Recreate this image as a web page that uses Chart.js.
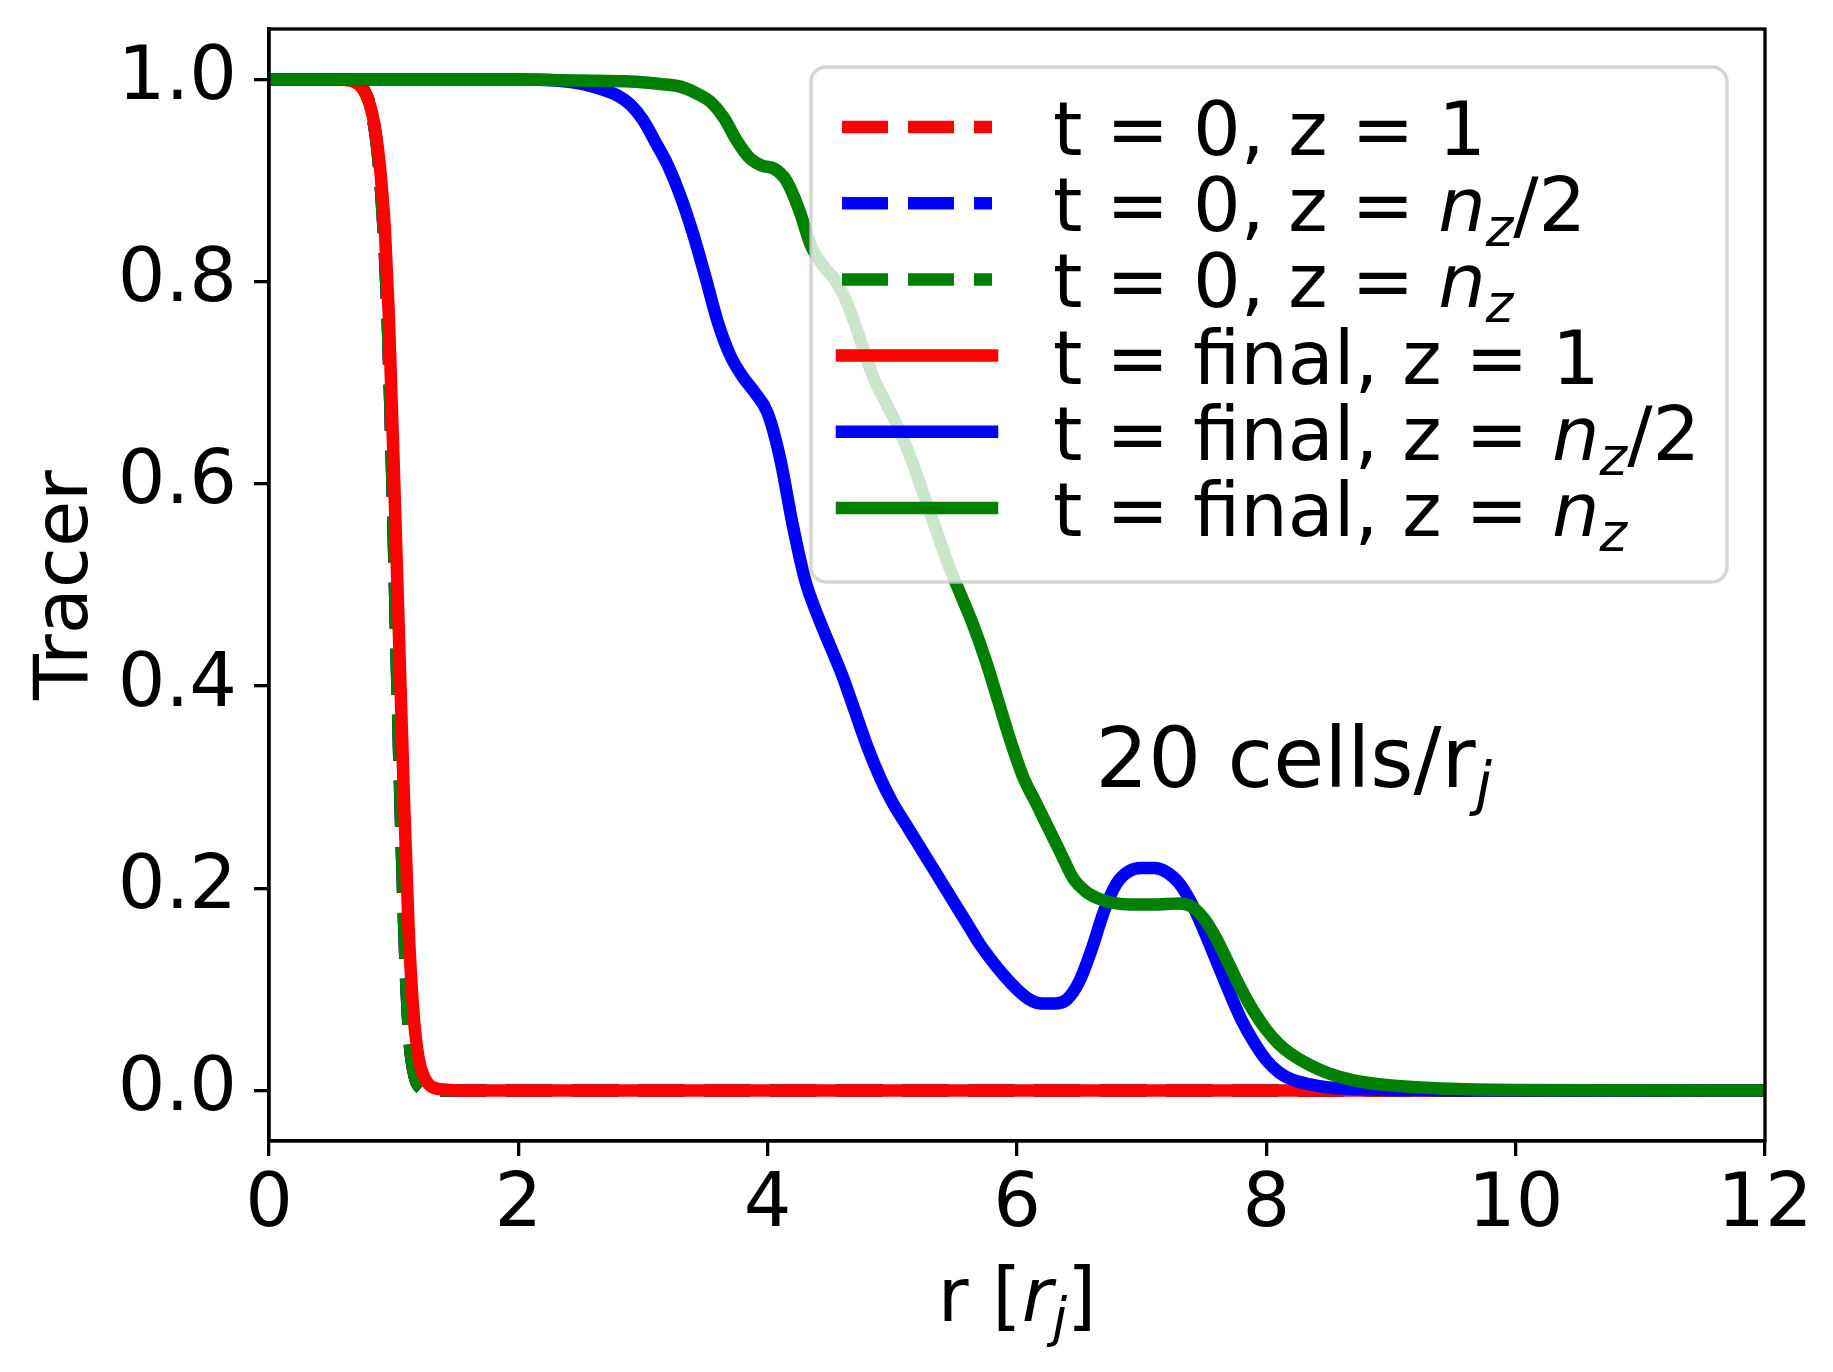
<!DOCTYPE html>
<html>
<head>
<meta charset="utf-8">
<title>Tracer profiles</title>
<script src="https://cdn.jsdelivr.net/npm/chart.js@4.4.1/dist/chart.umd.min.js"></script>
<style>
  html, body { margin: 0; padding: 0; background: #fff; }
  #wrap { width: 1833px; height: 1372px; }
</style>
</head>
<body>
<div id="wrap"><canvas id="myChart" width="1833" height="1372"></canvas></div>
<script>
// radius in units of r_j, tracer value
// t = 0 profile (same for all three z slices)
const rInit  = [0, 0.6, 0.7, 0.76, 0.82, 0.87, 0.91, 0.95, 0.99, 1.03, 1.07, 1.1, 1.13, 1.17, 1.21, 1.26, 1.4, 2, 12];
const trInit = [1, 1, 0.998, 0.99, 0.97, 0.93, 0.87, 0.77, 0.6, 0.4, 0.22, 0.11, 0.045, 0.013, 0.003, 0.0005, 0, 0, 0];

// t = final, z = 1
const rFin1  = [0, 0.5, 0.65, 0.72, 0.78, 0.83, 0.87, 0.9, 0.93, 0.96, 1.0, 1.04, 1.08, 1.12, 1.16, 1.2, 1.25, 1.3, 1.4, 1.6, 2, 4, 6, 8, 10, 12];
const trFin1 = [1, 1, 0.999, 0.995, 0.985, 0.965, 0.935, 0.9, 0.85, 0.77, 0.62, 0.46, 0.3, 0.16, 0.075, 0.032, 0.012, 0.004, 0.001, 0, 0, 0, 0, 0, 0, 0];

// t = final, z = n_z/2
const rFin2  = [0, 2.0, 2.3, 2.5, 2.6, 2.7, 2.8, 2.9, 3.0, 3.1, 3.2, 3.3, 3.4, 3.5, 3.6, 3.7, 3.8, 3.9, 4.0, 4.1, 4.2, 4.3, 4.4, 4.5, 4.6, 4.7, 4.8, 4.9,
                5.0, 5.1, 5.2, 5.3, 5.4, 5.5, 5.6, 5.7, 5.8, 5.9, 6.0, 6.1, 6.2, 6.3, 6.4, 6.5, 6.6, 6.7, 6.8, 6.9, 7.0, 7.1, 7.2, 7.3,
                7.4, 7.5, 7.6, 7.7, 7.8, 7.9, 8.0, 8.1, 8.2, 8.35, 8.5, 8.7, 9.0, 9.5, 10, 12];
const trFin2 = [1, 1, 0.999, 0.996, 0.993, 0.989, 0.984, 0.975, 0.96, 0.938, 0.915, 0.885, 0.848, 0.805, 0.76, 0.727, 0.706, 0.69, 0.67, 0.625, 0.56, 0.505, 0.47, 0.44, 0.41, 0.375, 0.34, 0.31,
                0.285, 0.265, 0.245, 0.225, 0.205, 0.185, 0.165, 0.145, 0.128, 0.113, 0.1, 0.09, 0.086, 0.086, 0.09, 0.108, 0.14, 0.178, 0.205, 0.217, 0.22, 0.22, 0.216, 0.205,
                0.185, 0.158, 0.128, 0.098, 0.07, 0.048, 0.03, 0.018, 0.011, 0.006, 0.003, 0.0015, 0.0005, 0, 0, 0];

// t = final, z = n_z
const rFin3  = [0, 2.0, 2.5, 2.9, 3.1, 3.3, 3.45, 3.55, 3.65, 3.75, 3.85, 3.95, 4.05, 4.15, 4.25, 4.35, 4.45, 4.55, 4.65, 4.75, 4.85, 4.95,
                5.05, 5.15, 5.25, 5.35, 5.45, 5.55, 5.65, 5.75, 5.85, 5.95, 6.05, 6.15, 6.25, 6.35, 6.45, 6.55, 6.65, 6.75, 6.9, 7.1, 7.3,
                7.4, 7.5, 7.6, 7.7, 7.8, 7.9, 8.0, 8.1, 8.2, 8.35, 8.5, 8.7, 9.0, 9.4, 10, 12];
const trFin3 = [1, 1, 0.999, 0.998, 0.996, 0.993, 0.985, 0.977, 0.962, 0.94, 0.923, 0.915, 0.912, 0.9, 0.872, 0.835, 0.815, 0.8, 0.775, 0.74, 0.705, 0.68,
                0.655, 0.625, 0.59, 0.555, 0.52, 0.49, 0.46, 0.425, 0.385, 0.345, 0.31, 0.285, 0.26, 0.235, 0.21, 0.197, 0.19, 0.186, 0.184, 0.184, 0.185,
                0.182, 0.17, 0.15, 0.125, 0.1, 0.078, 0.06, 0.046, 0.036, 0.025, 0.017, 0.01, 0.005, 0.002, 0.0005, 0];

const seriesLabels = ['t = 0, z = 1', 't = 0, z = $n_z/2$', 't = 0, z = $n_z$',
                      't = final, z = 1', 't = final, z = $n_z/2$', 't = final, z = $n_z$'];
const seriesColors = ['#ff0000', '#0000ff', '#008000', '#ff0000', '#0000ff', '#008000'];
const seriesDashed = [true, true, true, false, false, false];

const xTicks = [0, 2, 4, 6, 8, 10, 12];
const yTicks = [0, 0.2, 0.4, 0.6, 0.8, 1.0];
const xTitle = 'r [$r_j$]';
const yTitle = 'Tracer';
const noteText = '20 cells/r$_j$';
const noteX = 6.63, noteY = 0.3;

const FS = 75;          // 18 pt at 300 dpi
const NOTE_FS = 83;     // 20 pt
const LW = 12.5;        // 3 pt
const DASH = [46, 20];

function pts(xs, ys) {
  return xs.map((x, i) => ({ x: x, y: ys[i] }));
}

const seriesData = [pts(rInit, trInit), pts(rInit, trInit), pts(rInit, trInit),
                    pts(rFin1, trFin1), pts(rFin2, trFin2), pts(rFin3, trFin3)];

const datasets = seriesData.map((d, i) => ({
  label: seriesLabels[i],
  data: d,
  borderColor: seriesColors[i],
  borderWidth: LW,
  borderDash: seriesDashed[i] ? DASH : [],
  fill: false,
  order: 5 - i
}));

// tiny mathtext: $...$ -> letters italic, _c -> subscript
function parseRich(s) {
  const segs = [];
  s.split('$').forEach((part, k) => {
    if (k % 2 === 0) {
      if (part) segs.push({ t: part, it: false, sub: false });
      return;
    }
    for (let i = 0; i < part.length; i++) {
      let c = part[i], sub = false;
      if (c === '_') { sub = true; c = part[++i]; }
      segs.push({ t: c, it: /[A-Za-z]/.test(c), sub: sub });
    }
  });
  return segs;
}
function fontFor(g, size) {
  return (g.it ? 'italic ' : '') + (g.sub ? size * 0.7 : size) + 'px "DejaVu Sans"';
}
function drawRich(ctx, s, x, y, size, align) {
  const segs = parseRich(s);
  let w = 0;
  segs.forEach(g => { ctx.font = fontFor(g, size); g.w = ctx.measureText(g.t).width; w += g.w; });
  let cx = align === 'center' ? x - w / 2 : x;
  ctx.textAlign = 'left';
  ctx.textBaseline = 'alphabetic';
  ctx.fillStyle = '#000';
  segs.forEach(g => {
    ctx.font = fontFor(g, size);
    ctx.fillText(g.t, cx, y + (g.sub ? size * 0.2 : 0));
    cx += g.w;
  });
}

function roundRect(ctx, x, y, w, h, r) {
  ctx.beginPath();
  ctx.moveTo(x + r, y);
  ctx.lineTo(x + w - r, y);
  ctx.arcTo(x + w, y, x + w, y + r, r);
  ctx.lineTo(x + w, y + h - r);
  ctx.arcTo(x + w, y + h, x + w - r, y + h, r);
  ctx.lineTo(x + r, y + h);
  ctx.arcTo(x, y + h, x, y + h - r, r);
  ctx.lineTo(x, y + r);
  ctx.arcTo(x, y, x + r, y, r);
  ctx.closePath();
}

const decorPlugin = {
  id: 'decor',
  afterDatasetsDraw(chart) {
    const ctx = chart.ctx, a = chart.chartArea;
    ctx.save();
    // spines
    ctx.strokeStyle = '#000';
    ctx.lineWidth = 3.3;
    ctx.strokeRect(a.left, a.top, a.right - a.left, a.bottom - a.top);

    // note text
    drawRich(ctx, noteText, chart.scales.x.getPixelForValue(noteX), chart.scales.y.getPixelForValue(noteY), NOTE_FS, 'left');

    // legend
    const bx = 811, by = 67, bw = 916, bh = 515;
    roundRect(ctx, bx, by, bw, bh, 15);
    ctx.fillStyle = 'rgba(255,255,255,0.8)';
    ctx.fill();
    ctx.strokeStyle = 'rgba(204,204,204,0.8)';
    ctx.lineWidth = 3.5;
    ctx.stroke();
    for (let i = 0; i < seriesLabels.length; i++) {
      const cy = 127 + i * 76.2;
      ctx.beginPath();
      ctx.strokeStyle = seriesColors[i];
      ctx.lineWidth = LW;
      ctx.setLineDash(seriesDashed[i] ? DASH : []);
      ctx.lineCap = seriesDashed[i] ? 'butt' : 'square';
      ctx.moveTo(842, cy);
      ctx.lineTo(992, cy);
      ctx.stroke();
      ctx.setLineDash([]);
      drawRich(ctx, seriesLabels[i], 1053, cy + 28, FS, 'left');
    }
    ctx.restore();
  },
  afterDraw(chart) {
    const ctx = chart.ctx, a = chart.chartArea;
    ctx.save();
    drawRich(ctx, xTitle, (a.left + a.right) / 2, 1321, FS, 'center');
    ctx.translate(87, (a.top + a.bottom) / 2);
    ctx.rotate(-Math.PI / 2);
    ctx.font = FS + 'px "DejaVu Sans"';
    ctx.fillStyle = '#000';
    ctx.textAlign = 'center';
    ctx.textBaseline = 'alphabetic';
    ctx.fillText(yTitle, 0, 0);
    ctx.restore();
  }
};

Chart.defaults.font.family = '"DejaVu Sans"';
Chart.defaults.color = '#000';

new Chart(document.getElementById('myChart'), {
  type: 'line',
  data: { datasets: datasets },
  options: {
    responsive: false,
    animation: false,
    devicePixelRatio: 1,
    layout: { padding: { left: 0, right: 68, top: 29, bottom: 0 } },
    plugins: {
      legend: { display: false },
      tooltip: { enabled: false }
    },
    elements: {
      point: { radius: 0 },
      line: { cubicInterpolationMode: 'monotone', borderJoinStyle: 'round', borderCapStyle: 'butt' }
    },
    scales: {
      x: {
        type: 'linear',
        min: 0,
        max: 12,
        afterBuildTicks: s => { s.ticks = xTicks.map(v => ({ value: v })); },
        afterFit: s => { s.height = 231; s.paddingLeft = 0; s.paddingRight = 0; },
        ticks: {
          font: { size: FS },
          color: '#000',
          padding: 6,
          maxRotation: 0,
          autoSkip: false,
          callback: v => String(v)
        },
        grid: { drawOnChartArea: false, tickLength: 15, color: '#000', lineWidth: 3.3 },
        border: { display: true, color: '#000', width: 3.3 }
      },
      y: {
        type: 'linear',
        min: -0.05,
        max: 1.05,
        afterBuildTicks: s => { s.ticks = yTicks.map(v => ({ value: v })); },
        afterFit: s => { s.width = 269; s.paddingTop = 0; s.paddingBottom = 0; },
        ticks: {
          font: { size: FS },
          color: '#000',
          padding: 17,
          autoSkip: false,
          callback: v => v.toFixed(1)
        },
        grid: { drawOnChartArea: false, tickLength: 15, color: '#000', lineWidth: 3.3 },
        border: { display: true, color: '#000', width: 3.3 }
      }
    }
  },
  plugins: [decorPlugin]
});
</script>
</body>
</html>
